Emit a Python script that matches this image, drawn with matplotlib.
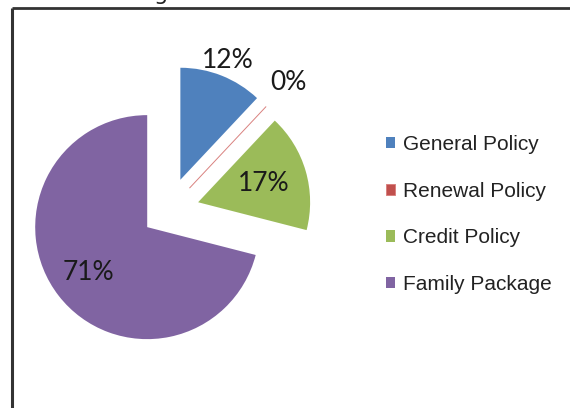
import numpy as np
import matplotlib
matplotlib.use("Agg")
import matplotlib.pyplot as plt

# data
categories = ["General Policy", "Renewal Policy", "Credit Policy", "Family Package"]
shares = [12, 0, 17, 71]
pct_labels = ["12%", "0%", "17%", "71%"]
colors = ["#4F81BD", "#C0504D", "#9BBB59", "#8064A2"]
explode = [0.30, 0.28, 0.28, 0.235]
label_dist = [1.15, 1.29, 0.61, 0.66]

W, H = 570, 408
fig = plt.figure(figsize=(W / 100, H / 100), dpi=100)
ax = fig.add_axes([0, 0, 1, 1])

R = 112
# pie's explode is in data units, so scale by the radius
wedges, _ = ax.pie(shares, colors=colors, explode=[e * R for e in explode],
                   startangle=90, counterclock=False, radius=R,
                   center=(168, H - 211), wedgeprops=dict(linewidth=0))
# zero slice shows only as a thin red line
wedges[1].set_edgecolor('#d9817f')
wedges[1].set_linewidth(0.7)

ax.set_xlim(0, W)
ax.set_ylim(0, H)
ax.set_aspect('equal')
ax.axis('off')

for w, txt, d in zip(wedges, pct_labels, label_dist):
    mid = np.deg2rad((w.theta1 + w.theta2) / 2)
    cx, cy = w.center
    ax.text(cx + d * R * np.cos(mid), cy + d * R * np.sin(mid), txt,
            ha='center', va='center', fontsize=19, family='Lato', color='#1a1a1a')

# chart border (top and left only visible)
ax.plot([12, W], [H - 8, H - 8], color='#333333', lw=2, solid_capstyle='butt')
ax.plot([12, 12], [H - 8, 0], color='#333333', lw=2.2, solid_capstyle='butt')

# clipped title descender
fig.text(0.27, 1.0, "g", fontsize=16, va='baseline', color='#222222')

leg = ax.legend(wedges, categories, loc='upper left',
                bbox_to_anchor=(386 / W, (H - 135) / H), bbox_transform=fig.transFigure,
                frameon=False, borderpad=0, borderaxespad=0,
                handlelength=0.45, handleheight=0.45, handletextpad=0.35,
                labelspacing=1.33, prop=dict(family=['Liberation Sans Narrow', 'Liberation Sans'], size=15))
for t in leg.get_texts():
    t.set_color('#222222')

fig.savefig("out.png", dpi=100)
